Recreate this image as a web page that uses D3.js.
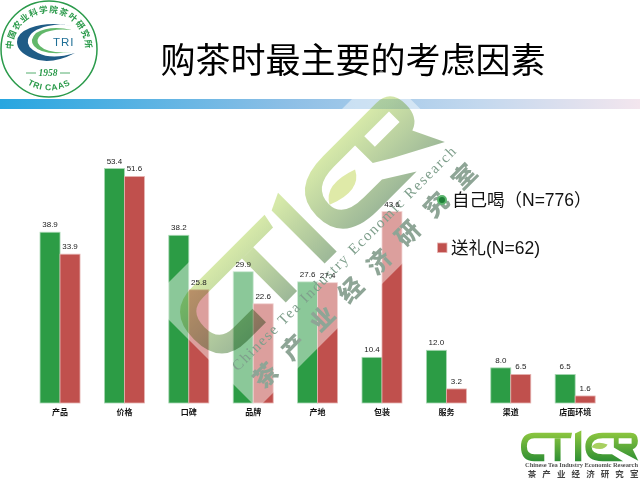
<!DOCTYPE html>
<html>
<head>
<meta charset="utf-8">
<script src="https://cdn.jsdelivr.net/npm/d3@7"></script>
<style>
html, body { margin: 0; padding: 0; background: #fff; overflow: hidden; }
svg { display: block; }
text { font-family: "Liberation Sans", "Noto Sans CJK SC", sans-serif; }
.cjk { font-family: "Noto Sans CJK SC", sans-serif; }
.axis path, .axis line { display: none; }
</style>
</head>
<body>
<div id="chart"></div>
<script>
var categories = ["产品", "价格", "口碑", "品牌", "产地", "包装", "服务", "渠道", "店面环境"];
var selfDrink = [38.9, 53.4, 38.2, 29.9, 27.6, 10.4, 12.0, 8.0, 6.5];
var gifting = [33.9, 51.6, 25.8, 22.6, 27.4, 43.6, 3.2, 6.5, 1.6];
var seriesNames = ["自己喝（N=776）", "送礼(N=62)"];
var seriesColors = ["#2c9c45", "#c0504d"];
var seriesEdges = ["#a9d8b4", "#e6b3b1"];
var wmName = "Chinese Tea Industry Economic Research";
var wmChars = ["茶", "产", "业", "经", "济", "研", "究", "室"];

var svgWidth = 640;
var svgHeight = 479;
var baseline = 403;

var svg = d3.select("#chart").append("svg")
    .attr("width", svgWidth)
    .attr("height", svgHeight)
    .style("isolation", "isolate");

var defs = svg.append("defs");

var band = defs.append("linearGradient").attr("id", "band");
band.append("stop").attr("offset", "0%").attr("stop-color", "#27a6e0");
band.append("stop").attr("offset", "45%").attr("stop-color", "#8dbfe6");
band.append("stop").attr("offset", "75%").attr("stop-color", "#c3d8ee");
band.append("stop").attr("offset", "100%").attr("stop-color", "#f3e6ee");

function logoGradient(id, top, bottom) {
    var g = defs.append("linearGradient").attr("id", id)
        .attr("gradientUnits", "userSpaceOnUse")
        .attr("x1", 0).attr("y1", 20).attr("x2", 0).attr("y2", 97);
    g.append("stop").attr("offset", "0%").attr("stop-color", top);
    g.append("stop").attr("offset", "100%").attr("stop-color", bottom);
}
logoGradient("wmGrad", "#d6e9a9", "#9db898");
logoGradient("smallGrad", "#8cc63f", "#2f8f34");

// header band and title
svg.append("rect")
    .attr("x", 0).attr("y", 99)
    .attr("width", svgWidth).attr("height", 10)
    .attr("fill", "url(#band)");

svg.append("text")
    .attr("class", "cjk")
    .attr("x", 353).attr("y", 73)
    .attr("text-anchor", "middle")
    .attr("font-size", 35)
    .attr("fill", "#000")
    .text("购茶时最主要的考虑因素");

// institute badge
var badge = svg.append("g");
badge.append("circle")
    .attr("cx", 49).attr("cy", 49).attr("r", 48)
    .attr("fill", "#fff").attr("stroke", "#2a9a4a").attr("stroke-width", 1.5);
defs.append("path").attr("id", "arcTop").attr("d", "M13,55 A36.5,36.5 0 1 1 85,55");
defs.append("path").attr("id", "arcBottom").attr("d", "M10,62 A41,41 0 0 0 88,62");
badge.append("text").attr("class", "cjk")
    .attr("font-size", 8.6).attr("font-weight", 700).attr("fill", "#2a9a4a")
    .attr("letter-spacing", 1)
    .append("textPath").attr("href", "#arcTop")
    .attr("startOffset", "50%").attr("text-anchor", "middle")
    .text("中国农业科学院茶叶研究所");
badge.append("text")
    .attr("font-size", 8.5).attr("font-weight", 700).attr("fill", "#2a9a4a")
    .attr("letter-spacing", 0.7)
    .append("textPath").attr("href", "#arcBottom")
    .attr("startOffset", "50%").attr("text-anchor", "middle")
    .text("TRI CAAS");
badge.append("path")
    .attr("fill", "#1f5c86")
    .attr("d", "M73,26 Q48,21 30,28 Q17,33 17,42 Q17,52 32,58 Q50,66 75,53 Q52,60 38,53 Q26,47 28,40 Q30,30 48,26 Q60,23 73,26 Z");
badge.append("path")
    .attr("fill", "#62b86a")
    .attr("d", "M72,30 Q50,25 36,33 Q29,40 34,46 Q42,56 72,52 Q48,54 40,46 Q34,40 42,34 Q52,28 72,30 Z");
badge.append("text")
    .attr("x", 53).attr("y", 46)
    .attr("font-size", 11.5).attr("letter-spacing", 1).attr("fill", "#1f6f96")
    .text("TRI");
badge.append("text")
    .attr("x", 48).attr("y", 76)
    .attr("text-anchor", "middle")
    .attr("font-style", "italic").attr("font-weight", 700)
    .attr("font-size", 9.5).attr("fill", "#2a9a4a")
    .style("font-family", "Liberation Serif")
    .text("1958");
badge.append("path")
    .attr("d", "M26,73 H36 M60,73 H70")
    .attr("stroke", "#2a9a4a").attr("stroke-width", 0.8);

// chart
var x0 = d3.scaleBand()
    .domain(categories)
    .range([27.8, 607.4])
    .paddingInner(0.379)
    .paddingOuter(0.19);

var x1 = d3.scaleBand()
    .domain([0, 1])
    .range([0, x0.bandwidth()]);

var y = d3.scaleLinear()
    .domain([0, 60])
    .range([baseline, baseline - 60 * 4.39]);

var chartGroup = svg.append("g");

[selfDrink, gifting].forEach(function (values, s) {
    chartGroup.selectAll(".bar" + s)
        .data(values)
        .enter()
        .append("rect")
        .attr("class", "bar" + s)
        .attr("x", (d, i) => x0(categories[i]) + x1(s))
        .attr("y", d => y(d))
        .attr("width", x1.bandwidth())
        .attr("height", d => baseline - y(d))
        .attr("fill", seriesColors[s])
        .attr("stroke", seriesEdges[s])
        .attr("stroke-width", 0.8);
});

var axisGroup = chartGroup.append("g")
    .attr("class", "axis")
    .attr("transform", `translate(0, ${baseline})`)
    .call(d3.axisBottom(x0).tickSize(0).tickPadding(6));

axisGroup.selectAll("text")
    .attr("class", "cjk")
    .attr("font-size", 8)
    .attr("font-weight", 700)
    .attr("fill", "#111");

// CTIER outline in a flat frame: u along the word, v across it
var logoShapes = [
    "M142,20 L40,20 Q4,20 4,58 Q4,97 40,97 L67,97 L67,78 L40,78 Q20,78 20,57 Q20,35 40,35 L139,35 Z",
    "M95,35 L111,35 L111,97 L95,97 Z",
    "M150,22 L167,14 L167,97 L150,97 Z",
    "M225,20 L300,20 Q320,20 320,42 Q320,60 306,65 L321,96 L272,70 L255,60 L255,35 L225,35 Q195,35 195,58 Q195,78 225,78 L250,78 L280,97 L225,97 Q178,97 178,58 Q178,20 225,20 Z M268,35 L268,50 L303,50 L303,35 Z"
];
var leafShape = "M195,59 Q205,40 238,52 Q228,72 195,59 Z";

// diagonal watermark
var wm = svg.append("g")
    .attr("transform", "translate(150, 301) rotate(-45)");

wm.append("rect")
    .attr("width", 327).attr("height", 152)
    .attr("fill", "#fff").attr("opacity", 0.45);

wm.selectAll(".wmShape")
    .data(logoShapes)
    .enter()
    .append("path")
    .attr("class", "wmShape")
    .attr("d", d => d)
    .attr("fill", "url(#wmGrad)")
    .attr("fill-rule", "evenodd")
    .style("mix-blend-mode", "multiply");

wm.append("path")
    .attr("d", leafShape)
    .attr("fill", "#dfeaa8")
    .style("mix-blend-mode", "multiply");

wm.append("text")
    .attr("x", 12).attr("y", 112)
    .attr("textLength", 310)
    .attr("font-size", 15)
    .style("font-family", "Liberation Serif")
    .attr("fill", "#7f9f8c")
    .text(wmName);

wm.selectAll(".wmChar")
    .data(wmChars)
    .enter()
    .append("text")
    .attr("class", "wmChar cjk")
    .attr("x", (d, i) => 29 + i * 40.2)
    .attr("y", 143)
    .attr("text-anchor", "middle")
    .attr("font-size", 24)
    .attr("font-weight", 900)
    .attr("fill", "#8ea596")
    .text(d => d);

// value labels stay readable over the watermark
[selfDrink, gifting].forEach(function (values, s) {
    svg.selectAll(".label" + s)
        .data(values)
        .enter()
        .append("text")
        .attr("class", "label" + s)
        .attr("x", (d, i) => x0(categories[i]) + x1(s) + x1.bandwidth() / 2)
        .attr("y", d => y(d) - 5)
        .attr("text-anchor", "middle")
        .attr("font-size", 8)
        .attr("fill", "#222")
        .text(d => d.toFixed(1));
});

// legend sits above the watermark
var legend = svg.append("g");
legend.append("circle")
    .attr("cx", 442).attr("cy", 200).attr("r", 4)
    .attr("fill", "#1f7f38").attr("stroke", "#5cb56e").attr("stroke-width", 2);
legend.append("rect")
    .attr("x", 437.5).attr("y", 243)
    .attr("width", 9.5).attr("height", 9.5)
    .attr("fill", seriesColors[1]).attr("stroke", seriesEdges[1]).attr("stroke-width", 0.8);
legend.append("text")
    .attr("x", 452).attr("y", 206)
    .attr("font-size", 17.5).attr("fill", "#111")
    .text(seriesNames[0]);
legend.append("text")
    .attr("x", 451).attr("y", 254)
    .attr("font-size", 17.5).attr("fill", "#111")
    .text(seriesNames[1]);

// small logo bottom right
var small = svg.append("g")
    .attr("transform", "translate(519.5, 425.3) scale(0.37)");
small.selectAll("path")
    .data(logoShapes)
    .enter()
    .append("path")
    .attr("d", d => d)
    .attr("fill", "url(#smallGrad)")
    .attr("fill-rule", "evenodd");
small.append("path")
    .attr("d", leafShape)
    .attr("fill", "#a8d060");

svg.append("text")
    .attr("x", 525).attr("y", 466.5)
    .attr("textLength", 113)
    .attr("font-size", 6.5)
    .attr("font-weight", 700)
    .style("font-family", "Liberation Serif")
    .attr("fill", "#555")
    .text(wmName);

svg.selectAll(".smallChar")
    .data(wmChars)
    .enter()
    .append("text")
    .attr("class", "smallChar cjk")
    .attr("x", (d, i) => 532 + i * 14.6)
    .attr("y", 476.5)
    .attr("text-anchor", "middle")
    .attr("font-size", 8.5)
    .attr("font-weight", 700)
    .attr("fill", "#444")
    .text(d => d);
</script>
</body>
</html>
